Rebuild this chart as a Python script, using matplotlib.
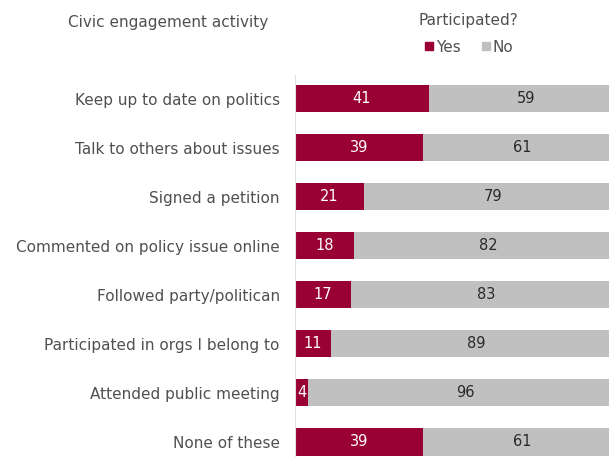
import numpy as np
import matplotlib.pyplot as plt
from matplotlib.patches import Rectangle

activities = [
    'Keep up to date on politics',
    'Talk to others about issues',
    'Signed a petition',
    'Commented on policy issue online',
    'Followed party/politican',
    'Participated in orgs I belong to',
    'Attended public meeting',
    'None of these',
]
yes = [41, 39, 21, 18, 17, 11, 4, 39]
no = [59, 61, 79, 82, 83, 89, 96, 61]

yes_color = '#990033'
no_color = '#c1c0c1'
text_color = '#505050'

plt.rcParams['font.family'] = ['DejaVu Sans']

fig = plt.figure(figsize=(6.09, 4.57), dpi=100)
W, H = 609, 457
# axes from x=295 to 609, y=75 to 457 (pixels from top)
ax = fig.add_axes([295 / W, 0, (609 - 295) / W, (457 - 75) / H])

y = np.arange(len(activities))
ax.barh(y, yes, height=0.56, color=yes_color)
ax.barh(y, no, left=yes, height=0.56, color=no_color)

for i in range(len(activities)):
    ax.text(yes[i] / 2, y[i], str(yes[i]), ha='center', va='center',
            color='white', fontsize=10.5)
    ax.text(yes[i] + no[i] / 2, y[i], str(no[i]), ha='center', va='center',
            color='#2a2a2a', fontsize=10.5)

ax.set_xlim(0, 96)
ax.set_ylim(7.31, -0.48)
ax.set_yticks(y)
ax.set_yticklabels(activities, fontsize=11, color=text_color)
ax.tick_params(axis='y', length=0, pad=11)
ax.set_xticks([])
for s in ['top', 'right', 'bottom']:
    ax.spines[s].set_visible(False)
ax.spines['left'].set_color('#e0e0e0')

fig.text(168 / W, 1 - 22 / H, 'Civic engagement activity', ha='center', va='center',
         fontsize=11, color=text_color)
fig.text(468 / W, 1 - 20 / H, 'Participated?', ha='center', va='center',
         fontsize=11, color=text_color)
fig.patches.append(Rectangle((425 / W, 1 - 50 / H), 8 / W, 8 / H,
                             transform=fig.transFigure, color=yes_color))
fig.text(436 / W, 1 - 47 / H, 'Yes', ha='left', va='center', fontsize=11, color=text_color)
fig.patches.append(Rectangle((482 / W, 1 - 50 / H), 8 / W, 8 / H,
                             transform=fig.transFigure, color=no_color))
fig.text(493 / W, 1 - 47 / H, 'No', ha='left', va='center', fontsize=11, color=text_color)

fig.savefig('out.png', dpi=100)
